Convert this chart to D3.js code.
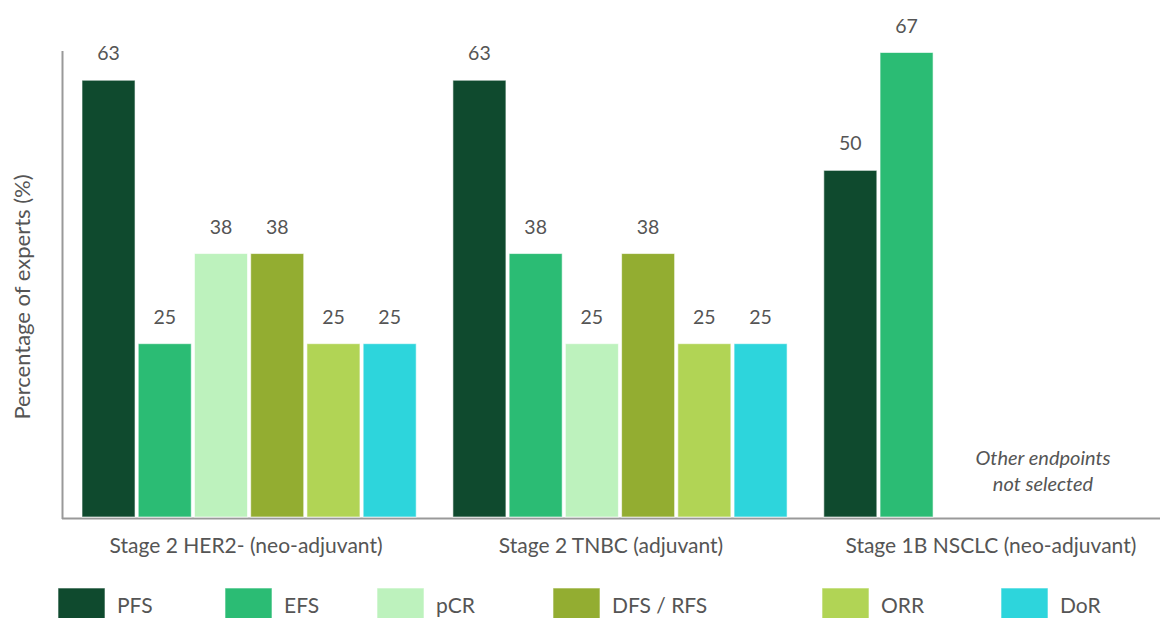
<!DOCTYPE html>
<html>
<head>
  <meta charset="UTF-8">
  <style>
    body { margin: 0; background: white; }
    svg { display: block; font-family: Lato, "Open Sans", sans-serif; }
    .val { font-size: 19.5px; fill: #555; text-anchor: middle; }
    .cat { font-size: 21px; fill: #555; text-anchor: middle; }
    .leg { font-size: 21px; fill: #555; }
  </style>
</head>
<body>
<svg></svg>
<script src="https://d3js.org/d3.v7.min.js"></script>
<script>

// data
let groups = ["Stage 2 HER2- (neo-adjuvant)", "Stage 2 TNBC (adjuvant)", "Stage 1B NSCLC (neo-adjuvant)"];
let endpoints = ["PFS", "EFS", "pCR", "DFS / RFS", "ORR", "DoR"];
let her2Values = [63, 25, 38, 38, 25, 25];
let tnbcValues = [63, 38, 25, 38, 25, 25];
let nsclcValues = [50, 67];
let colors = ["#0f4a2e", "#2bbc74", "#bdf2bd", "#93ad31", "#b1d455", "#2dd5dc"];

let width = 1160, height = 618;
let svg = d3.select("svg").attr("width", width).attr("height", height);

let series = [her2Values, tnbcValues, nsclcValues];
let rows = [];
series.forEach((vals, gi) => {
  vals.forEach((v, i) => rows.push({ group: groups[gi], endpoint: endpoints[i], value: v }));
});

// scales
let x0 = d3.scaleBand().domain(groups).range([82, 1158]).paddingInner(0.099).paddingOuter(0);
let x1 = d3.scaleBand().domain(endpoints).range([0, x0.bandwidth()]).paddingInner(0.057).paddingOuter(0);
let y = d3.scaleLinear().domain([0, 67]).range([517, 52.5]);
let color = d3.scaleOrdinal().domain(endpoints).range(colors);

// axes lines
svg.append("line").attr("x1", 62.5).attr("x2", 62.5).attr("y1", 51).attr("y2", 519)
  .attr("stroke", "#999").attr("stroke-width", 2);
svg.append("line").attr("x1", 62).attr("x2", width).attr("y1", 518.5).attr("y2", 518.5)
  .attr("stroke", "#999").attr("stroke-width", 2);

// bars
svg.append("g").selectAll("rect")
  .data(rows)
  .enter()
  .append("rect")
  .attr("x", d => x0(d.group) + x1(d.endpoint))
  .attr("y", d => y(d.value))
  .attr("width", x1.bandwidth())
  .attr("height", d => y(0) - y(d.value))
  .attr("fill", d => color(d.endpoint))
  .attr("stroke", "rgba(255,255,255,0.6)")
  .attr("stroke-width", 1);

// value labels
svg.append("g").selectAll("text")
  .data(rows)
  .enter()
  .append("text")
  .attr("class", "val")
  .attr("x", d => x0(d.group) + x1(d.endpoint) + x1.bandwidth() / 2)
  .attr("y", d => y(d.value) - 20)
  .text(d => d.value);

// category labels (TNBC label sits a bit left of its group in the original)
let catShift = [-3, -9, 0];
svg.append("g").selectAll("text")
  .data(groups)
  .enter()
  .append("text")
  .attr("class", "cat")
  .attr("x", (d, i) => x0(d) + x0.bandwidth() / 2 + catShift[i])
  .attr("y", 553)
  .text(d => d);

// note for NSCLC
let note = svg.append("text")
  .attr("x", 1043)
  .attr("y", 465)
  .attr("text-anchor", "middle")
  .attr("font-size", 20)
  .attr("font-style", "italic")
  .attr("fill", "#555");
note.append("tspan").attr("x", 1043).text("Other endpoints");
note.append("tspan").attr("x", 1043).attr("dy", 25.5).text("not selected");

// y title
svg.append("text")
  .attr("transform", "translate(30, 297) rotate(-90)")
  .attr("text-anchor", "middle")
  .attr("font-size", 22)
  .attr("fill", "#555")
  .text("Percentage of experts (%)");

// legend
let legendX = [58, 225, 377, 553, 822, 1001];
let legend = svg.append("g").selectAll("g")
  .data(endpoints)
  .enter()
  .append("g")
  .attr("transform", (d, i) => `translate(${legendX[i]}, 588)`);

legend.append("rect")
  .attr("width", 47)
  .attr("height", 40)
  .attr("fill", d => color(d))
  .attr("stroke", "rgba(255,255,255,0.6)");

legend.append("text")
  .attr("class", "leg")
  .attr("x", 59)
  .attr("y", 24.5)
  .text(d => d);

</script>
</body>
</html>
